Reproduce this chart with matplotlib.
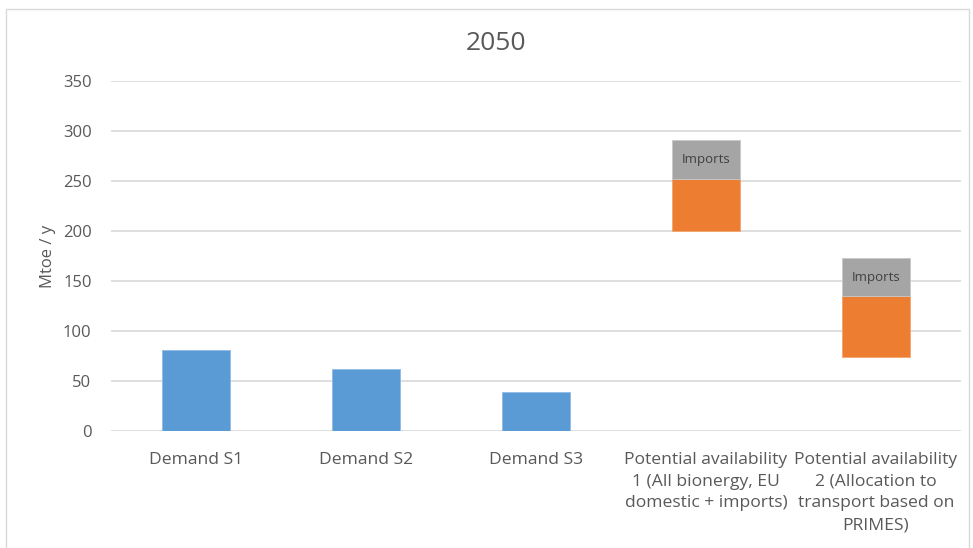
import matplotlib
matplotlib.use("Agg")
import matplotlib.pyplot as plt
from matplotlib.patches import Rectangle

categories = ["Demand S1", "Demand S2", "Demand S3",
              "Potential availability\n1 (All bionergy, EU\ndomestic + imports)",
              "Potential availability\n2 (Allocation to\ntransport based on\nPRIMES)"]
demand = [81, 62, 39, 0, 0]
base = [0, 0, 0, 200, 74]
domestic = [0, 0, 0, 52, 61]
imports = [0, 0, 0, 39, 38]
imports_label = "Imports"

plt.rcParams['font.family'] = ['Open Sans', 'DejaVu Sans']

fig = plt.figure(figsize=(9.73, 5.48), dpi=100)
ax = fig.add_axes([111/973, 1-431/548, 850/973, 350/548])

x = list(range(len(categories)))
w = 0.4
blue = "#5B9BD5"; orange = "#ED7D31"; grey = "#A5A5A5"
ax.bar(x, demand, width=w, color=blue, edgecolor="#8fbbe6", linewidth=0.6, zorder=3)
ax.bar(x[3:], domestic[3:], bottom=base[3:], width=w, color=orange, edgecolor="#f3a570", linewidth=0.6, zorder=3)
imp_bottom = [b + d for b, d in zip(base, domestic)]
ax.bar(x[3:], imports[3:], bottom=imp_bottom[3:], width=w, color=grey, edgecolor="#c8c8c8", linewidth=0.6, zorder=3)
for i in x[3:]:
    ax.text(i, imp_bottom[i] + imports[i] / 2, imports_label, ha="center", va="center",
            fontsize=9.5, color="#404040", zorder=4)

ax.set_xlim(-0.5, 4.5)
ax.set_ylim(0, 350)
ax.set_yticks(range(0, 351, 50))
ax.grid(axis="y", color="#d9d9d9", linewidth=1.2, zorder=0)
ax.set_axisbelow(True)
for s in ax.spines.values():
    s.set_visible(False)
ax.tick_params(axis="y", length=0, labelsize=12, labelcolor="#595959", pad=14)
ax.tick_params(axis="x", length=0, labelsize=12.6, labelcolor="#595959", pad=15)
ax.set_xticks(x)
ax.set_xticklabels(categories, linespacing=1.48)
ax.set_ylabel("Mtoe / y", fontsize=12, color="#595959", labelpad=5)
fig.text(496/973, 1-43/548, "2050", ha="center", va="center", fontsize=19, color="#595959")

fig.patches.append(Rectangle((6/973, -0.1), 963/973, 1 - 9/548 + 0.1, transform=fig.transFigure,
                             fill=False, edgecolor="#d9d9d9", linewidth=1.0))

fig.savefig("out.png", dpi=100, facecolor="white")
